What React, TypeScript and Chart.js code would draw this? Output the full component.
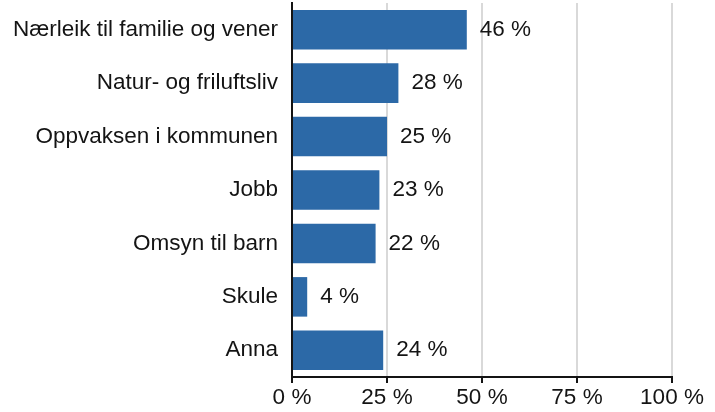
import React, { useEffect, useRef } from "react";
import { Chart, registerables } from "chart.js";

Chart.register(...registerables);

const categories = [
  "Nærleik til familie og vener",
  "Natur- og friluftsliv",
  "Oppvaksen i kommunen",
  "Jobb",
  "Omsyn til barn",
  "Skule",
  "Anna",
];
const values = [46, 28, 25, 23, 22, 4, 24];
const xTicks = [0, 25, 50, 75, 100];

const FONT = "'Liberation Sans', Arial, sans-serif";
const TEXT = "#141414";
const FS = 22.5;

const valueLabels = {
  id: "valueLabels",
  afterDatasetsDraw(chart: any) {
    const ctx = chart.ctx;
    const meta = chart.getDatasetMeta(0);
    ctx.save();
    ctx.font = `${FS}px ${FONT}`;
    ctx.fillStyle = TEXT;
    ctx.textAlign = "left";
    ctx.textBaseline = "middle";
    meta.data.forEach((bar: any, i: number) => {
      ctx.fillText(`${values[i]} %`, bar.x + 13, bar.y);
    });
    ctx.restore();
  },
};

export default function App() {
  const ref = useRef<HTMLCanvasElement>(null);
  useEffect(() => {
    if (!ref.current) return;
    const chart = new Chart(ref.current, {
      type: "bar",
      data: {
        labels: categories,
        datasets: [
          {
            data: values,
            backgroundColor: "#2c69a7",
            borderWidth: 0,
            barPercentage: 0.74,
            categoryPercentage: 1,
          },
        ],
      },
      options: {
        indexAxis: "y",
        animation: false,
        responsive: true,
        maintainAspectRatio: false,
        layout: { padding: { top: 3, right: 43, left: 0, bottom: 0 } },
        plugins: { legend: { display: false }, tooltip: { enabled: false } },
        scales: {
          x: {
            min: 0,
            max: 100,
            afterBuildTicks: (s: any) => {
              s.ticks = xTicks.map((v) => ({ value: v }));
            },
            afterFit: (s: any) => {
              s.height = 35;
            },
            grid: {
              color: "#d9d9d9",
              lineWidth: 2,
              tickColor: TEXT,
              tickLength: 6,
            },
            border: { color: TEXT, width: 2 },
            ticks: {
              color: TEXT,
              font: { family: FONT, size: FS },
              padding: 1,
              maxRotation: 0,
              callback: (v: any) => `${v} %`,
            },
          },
          y: {
            afterFit: (s: any) => {
              s.width = 292;
              s.paddingTop = 0;
              s.paddingBottom = 0;
            },
            grid: { display: false, drawTicks: false },
            border: { color: TEXT, width: 2 },
            ticks: {
              color: TEXT,
              font: { family: FONT, size: FS },
              padding: 14,
            },
          },
        },
      },
      plugins: [valueLabels],
    });
    return () => chart.destroy();
  }, []);
  return (
    <div style={{ position: "absolute", left: 0, top: 0, width: 715, height: 412, background: "#fff" }}>
      <canvas ref={ref} />
    </div>
  );
}
